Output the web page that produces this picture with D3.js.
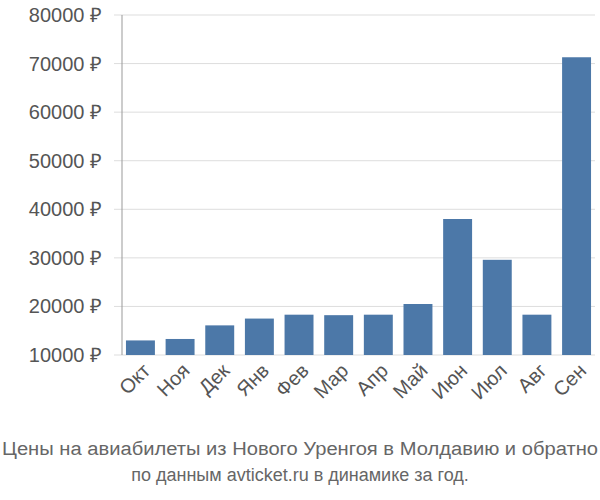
<!DOCTYPE html>
<html><head><meta charset="utf-8">
<script src="https://cdn.jsdelivr.net/npm/d3@7"></script>
<style>body{margin:0;background:#fff}text{font-family:"Liberation Sans",Arial,sans-serif}</style>
</head><body>
<svg id="c" width="600" height="500"></svg>
<script>
const months = ["Окт","Ноя","Дек","Янв","Фев","Мар","Апр","Май","Июн","Июл","Авг","Сен"]
const prices = [13000,13300,16100,17500,18300,18200,18300,20500,38000,29600,18300,71300]
const yTicks = [10000,20000,30000,40000,50000,60000,70000,80000]

const svg = d3.select("#c")
const mLeft = 122, mRight = 595, mTop = 15, mBottom = 355

const x = d3.scaleBand().domain(months).range([mLeft, mRight]).paddingInner(0.27).paddingOuter(0.1)
const y = d3.scaleLinear().domain([10000, 80000]).range([mBottom, mTop])

// grid
svg.append("g").selectAll("line").data(yTicks).join("line")
    .attr("x1", mLeft - 8).attr("x2", mRight)
    .attr("y1", d => y(d)).attr("y2", d => y(d))
    .attr("stroke", "#ddd")

svg.append("line").attr("x1", mLeft).attr("x2", mLeft).attr("y1", mTop).attr("y2", mBottom)
    .attr("stroke", "#999")

svg.append("g").selectAll("rect").data(prices).join("rect")
    .attr("x", (d, i) => x(months[i]))
    .attr("width", x.bandwidth())
    .attr("y", d => y(d))
    .attr("height", d => mBottom - y(d))
    .attr("fill", "#4c78a8")

svg.append("g").selectAll("text").data(yTicks).join("text")
    .attr("x", mLeft - 20).attr("y", d => y(d)).attr("dy", "0.35em")
    .attr("text-anchor", "end").attr("font-size", 20).attr("fill", "#555")
    .text(d => d + " ₽")

svg.append("g").selectAll("text").data(months).join("text")
    .attr("transform", d => `translate(${x(d) + x.bandwidth() / 2 + 6},${mBottom + 12}) rotate(-45)`)
    .attr("text-anchor", "end").attr("dy", "0.35em")
    .attr("font-size", 20).attr("fill", "#555")
    .text(d => d)

svg.append("text").attr("x", 300).attr("y", 455).attr("text-anchor", "middle")
    .attr("font-size", 18).attr("fill", "#666")
    .attr("textLength", 596).attr("lengthAdjust", "spacingAndGlyphs")
    .text("Цены на авиабилеты из Нового Уренгоя в Молдавию и обратно")
svg.append("text").attr("x", 300).attr("y", 481).attr("text-anchor", "middle")
    .attr("font-size", 18).attr("fill", "#666")
    .text("по данным avticket.ru в динамике за год.")
</script>
</body></html>
